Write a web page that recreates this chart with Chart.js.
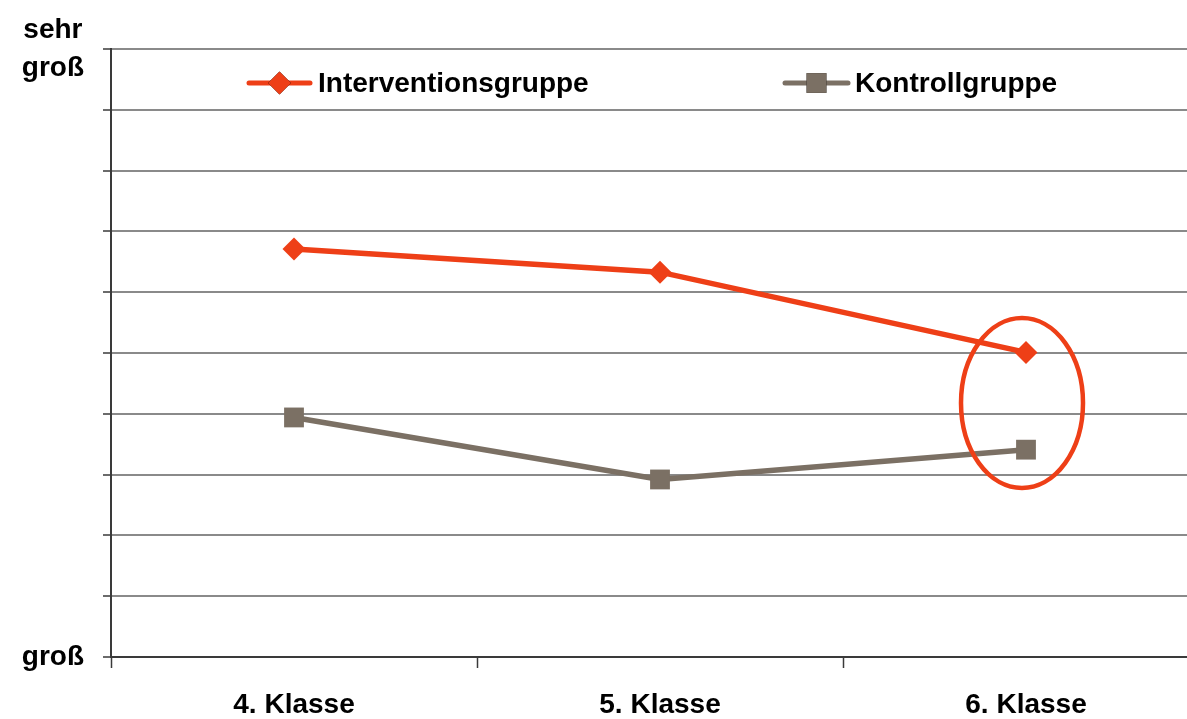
<!DOCTYPE html>
<html lang="de">
<head>
<meta charset="utf-8">
<title>Interventions- und Kontrollgruppe</title>
<script src="https://cdn.jsdelivr.net/npm/chart.js@4/dist/chart.umd.min.js"></script>
<style>
  html, body { margin: 0; padding: 0; background: #ffffff; overflow: hidden; }
  #wrap { position: relative; width: 1212px; height: 719px; }
  canvas { display: block; }
</style>
</head>
<body>
<div id="wrap"><canvas id="chart" width="1212" height="719"></canvas></div>
<script>
// Klassenstufen
const klassen = ['4. Klasse', '5. Klasse', '6. Klasse'];

// Mittelwerte auf der Skala 0 (groß) bis 10 (sehr groß)
const intervention = [6.71, 6.33, 5.01];
const kontrolle = [3.94, 2.92, 3.41];

// Beschriftung der y-Achse, ein Eintrag je Skalenschritt von 0 bis 10
const yTickText = ['groß', '', '', '', '', '', '', '', '', '', ['sehr', 'groß']];

const FONT = '"Liberation Sans", Arial, "DejaVu Sans", sans-serif';
const RED = '#ee3f17';
const TAUPE = '#7b7064';
const GRID = '#8a8a8a';
const AXIS = '#3a3a3a';

// Legende innerhalb der Zeichenfläche: Linie mit Marker, daneben der Gruppenname
const innerLegend = {
  id: 'innerLegend',
  afterDatasetsDraw(chart) {
    const ctx = chart.ctx;
    const slots = [
      { x0: 249, x1: 310, tx: 318 },
      { x0: 785, x1: 848, tx: 855 }
    ];
    const y = 83;
    ctx.save();
    chart.data.datasets.forEach((ds, i) => {
      const s = slots[i];
      ctx.strokeStyle = ds.borderColor;
      ctx.lineWidth = 5;
      ctx.lineCap = 'round';
      ctx.beginPath();
      ctx.moveTo(s.x0, y);
      ctx.lineTo(s.x1, y);
      ctx.stroke();
      Chart.helpers.drawPoint(ctx, {
        pointStyle: ds.pointStyle,
        radius: ds.pointRadius,
        borderWidth: 0
      }, (s.x0 + s.x1) / 2, y);
      ctx.fillStyle = ds.pointBackgroundColor;
      ctx.fill();
      ctx.fillStyle = '#000000';
      ctx.font = 'bold 28px ' + FONT;
      ctx.textBaseline = 'middle';
      ctx.textAlign = 'left';
      ctx.fillText(ds.label, s.tx, y + 1);
    });
    ctx.restore();
  }
};

// Ellipse um beide Werte der 6. Klasse
const highlightRing = {
  id: 'highlightRing',
  afterDatasetsDraw(chart) {
    const xs = chart.scales.x, ys = chart.scales.y;
    const idx = 2;
    const cx = xs.getPixelForValue(idx) - 4;
    const yTop = ys.getPixelForValue(intervention[idx]);
    const yBot = ys.getPixelForValue(kontrolle[idx]);
    const cy = (yTop + yBot) / 2 + 2;
    const ctx = chart.ctx;
    ctx.save();
    ctx.strokeStyle = RED;
    ctx.lineWidth = 4.5;
    ctx.beginPath();
    ctx.ellipse(cx, cy, 61, 85, 0, 0, Math.PI * 2);
    ctx.stroke();
    ctx.restore();
  }
};

new Chart(document.getElementById('chart'), {
  type: 'line',
  data: {
    labels: klassen,
    datasets: [
      {
        label: 'Interventionsgruppe',
        data: intervention,
        borderColor: RED,
        backgroundColor: RED,
        pointBackgroundColor: RED,
        pointBorderColor: RED,
        borderWidth: 5.5,
        pointStyle: 'rectRot',
        pointRadius: 11.5,
        pointBorderWidth: 0,
        tension: 0
      },
      {
        label: 'Kontrollgruppe',
        data: kontrolle,
        borderColor: TAUPE,
        backgroundColor: TAUPE,
        pointBackgroundColor: TAUPE,
        pointBorderColor: TAUPE,
        borderWidth: 5.5,
        pointStyle: 'rect',
        pointRadius: 14,
        pointBorderWidth: 0,
        tension: 0
      }
    ]
  },
  options: {
    responsive: false,
    animation: false,
    layout: { autoPadding: false, padding: { top: 49, right: 3, left: 0, bottom: 0 } },
    plugins: {
      legend: { display: false },
      tooltip: { enabled: false }
    },
    scales: {
      x: {
        type: 'category',
        offset: true,
        afterFit(scale) {
          scale.height = 62;
          scale.paddingLeft = 0;
          scale.paddingRight = 0;
        },
        border: { display: true, color: AXIS, width: 2 },
        grid: {
          offset: true,
          drawOnChartArea: false,
          drawTicks: true,
          tickLength: 11,
          tickColor: AXIS,
          tickWidth: 1.5
        },
        ticks: {
          color: '#000000',
          padding: 20,
          font: { family: FONT, size: 28, weight: 'bold' },
          maxRotation: 0
        }
      },
      y: {
        min: 0,
        max: 10,
        afterFit(scale) {
          scale.width = 111;
          scale.paddingTop = 0;
          scale.paddingBottom = 0;
        },
        border: { display: true, color: AXIS, width: 2 },
        grid: {
          color: (c) => (c.tick && c.tick.value === 0 ? AXIS : GRID),
          lineWidth: 2,
          drawTicks: true,
          tickLength: 8,
          tickColor: AXIS,
          tickWidth: 1.5
        },
        ticks: {
          stepSize: 1,
          autoSkip: false,
          color: '#000000',
          padding: 19,
          crossAlign: 'center',
          font: { family: FONT, size: 28, weight: 'bold', lineHeight: '38px' },
          callback: (value) => yTickText[value]
        }
      }
    }
  },
  plugins: [innerLegend, highlightRing]
});
</script>
</body>
</html>
